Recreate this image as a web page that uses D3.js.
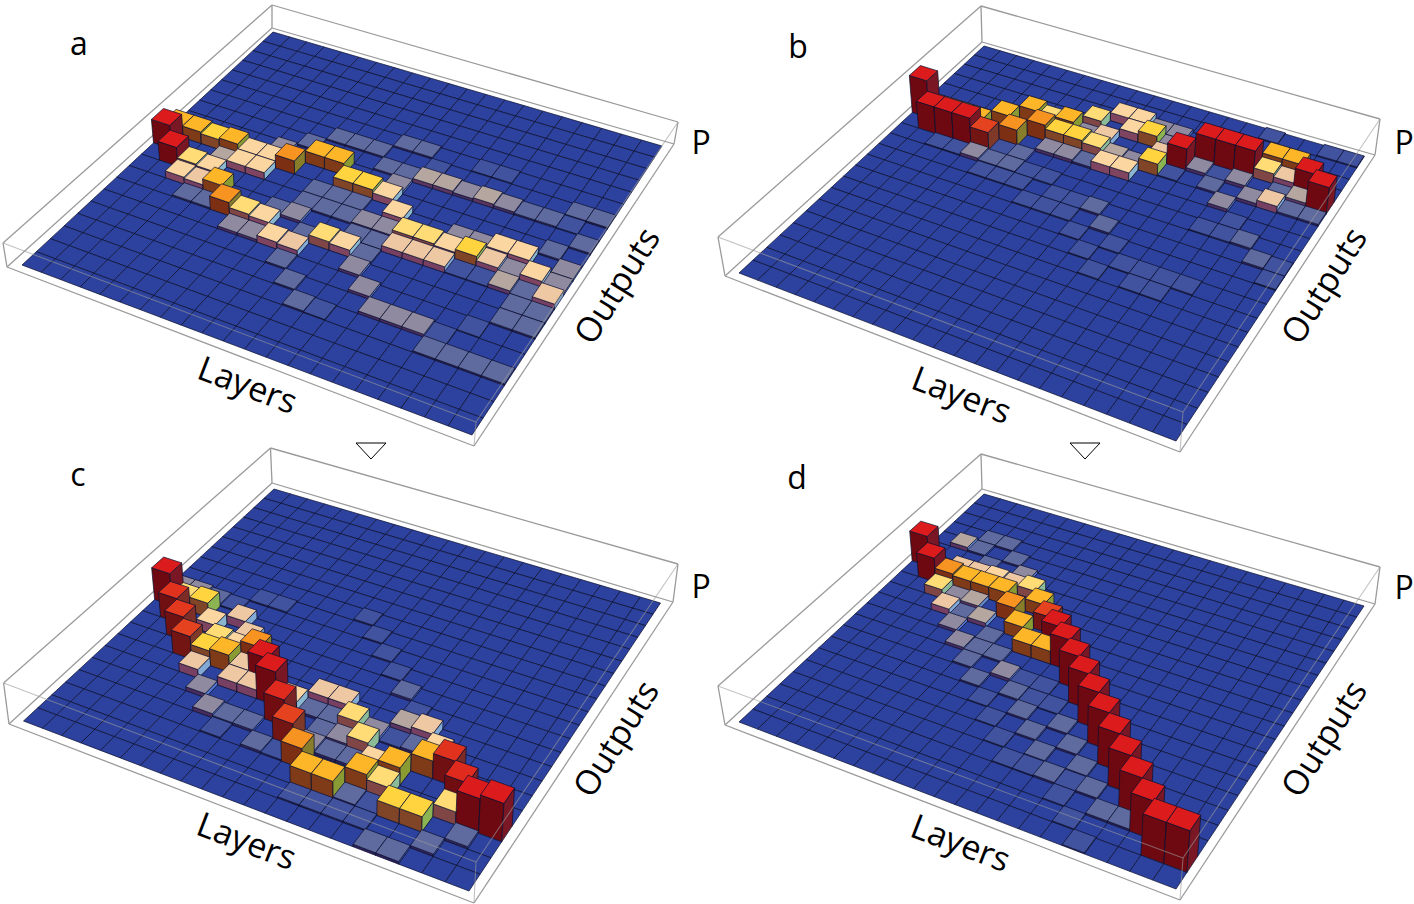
<!DOCTYPE html>
<html>
<head>
<meta charset="utf-8">
<title>Layers / Outputs</title>
<script src="https://cdn.jsdelivr.net/npm/d3@7"></script>
<style>
  html, body { margin: 0; background: #fff; }
  text { font-family: "Open Sans", "Noto Sans", sans-serif; fill: #000; }
</style>
</head>
<body>
<svg id="chart" width="1414" height="904"></svg>
<script>
// [layer, output, value]
const cellsA = [[0,10,1],[1,9,.8],[0,11,.5],[1,11,.5],[2,11,.43],[3,11,.5],[4,11,.3],[5,11,.3],[6,11,.57],[7,12,.5],[8,12,.5],[9,11,.43],[10,11,.43],[11,11,.3],[2,9,.36],[3,9,.3],[3,10,.17],[4,10,.3],[5,10,.3],[2,8,.3],[3,8,.25],[4,8,.5],[5,7,.57],[6,7,.36],[7,7,.3],[3,7,.07],[4,7,.07],[6,6,.12],[7,6,.12],[8,6,.3],[9,6,.25],[8,8,.12],[9,7,.07],[10,7,.36],[11,7,.3],[9,5,.07],[10,4,.07],[11,3,.07],[12,3,.04],[7,14,.07],[8,14,.07],[9,14,.07],[10,15,.07],[11,15,.07],[10,13,.07],[11,13,.07],[5,12,.12],[6,13,.07],[11,12,.12],[12,13,.17],[13,13,.17],[14,13,.12],[15,13,.17],[16,13,.12],[17,13,.07],[18,13,.07],[19,14,.07],[20,14,.07],[14,15,.04],[15,15,.04],[12,14,.04],[12,10,.3],[13,9,.36],[14,9,.36],[15,9,.3],[16,9,.43],[17,10,.3],[18,10,.3],[19,9,.3],[20,8,.25],[20,10,.12],[20,9,.12],[18,9,.12],[18,8,.17],[17,9,.25],[13,8,.25],[14,8,.25],[15,8,.25],[11,9,.12],[12,9,.12],[11,8,.07],[12,8,.07],[12,7,.07],[12,6,.12],[13,5,.12],[14,4,.12],[15,4,.12],[16,4,.12],[19,11,.07],[20,12,.07],[19,13,.04],[8,10,.07],[9,10,.07],[10,10,.07],[8,9,.07],[9,9,.07],[10,9,.07],[7,8,.07],[15,10,.12],[16,10,.12],[17,8,.04],[16,8,.04],[17,3,.07],[18,3,.07],[19,3,.07],[20,3,.07],[17,4,.04],[18,5,.04],[19,6,.07],[20,6,.07],[19,7,.07],[20,7,.07],[19,8,.07]];
const cellsB = [[0,14,1.36],[1,13,.98],[2,13,.98],[3,13,.98],[4,13,.66],[5,14,.57],[4,15,.5],[5,16,.5],[6,16,.36],[7,16,.5],[8,17,.36],[9,18,.3],[10,18,.3],[1,14,.5],[2,14,.5],[3,14,.5],[6,15,.57],[7,15,.43],[8,15,.43],[9,15,.36],[9,16,.25],[10,17,.3],[11,17,.43],[10,15,.17],[11,15,.12],[12,15,.43],[10,14,.3],[11,14,.3],[8,16,.12],[11,18,.12],[12,18,.12],[12,16,.25],[12,17,.12],[13,17,.3],[13,16,.8],[14,17,.98],[15,17,.98],[16,17,.98],[17,18,.5],[18,18,.5],[19,17,.8],[20,16,.98],[17,17,.36],[18,17,.25],[19,16,.17],[18,15,.25],[17,15,.12],[16,14,.12],[16,16,.12],[15,15,.07],[14,16,.12],[13,15,.04],[15,16,.04],[19,20,.04],[20,20,.04],[19,15,.07],[20,15,.07],[18,16,.07],[16,20,.04],[2,12,.04],[3,12,.04],[4,12,.12],[5,12,.07],[6,12,.07],[6,13,.07],[5,13,.04],[7,14,.12],[8,14,.12],[9,14,.07],[5,11,.04],[6,11,.04],[7,11,.04],[8,12,.04],[7,12,.04],[8,10,.04],[9,11,.04],[10,11,.04],[11,11,.07],[9,10,.04],[10,10,.04],[11,9,.04],[12,10,.07],[13,9,.04],[12,8,.04],[14,8,.04],[15,8,.04],[16,8,.04],[17,8,.04],[16,12,.04],[17,12,.04],[18,12,.07],[17,13,.04],[19,11,.07],[20,11,.04],[20,10,.04],[13,7,.04],[15,7,.04],[16,7,.04]];
const cellsC = [[0,10,.95],[1,9,.72],[2,8,.7],[3,7,.66],[2,10,.43],[1,10,.36],[0,11,.12],[1,11,.12],[2,11,.07],[3,11,.04],[4,12,.04],[3,9,.3],[4,10,.25],[5,12,.04],[4,8,.36],[5,8,.3],[5,9,.25],[6,8,.57],[4,7,.43],[5,7,.5],[7,7,.8],[8,6,.97],[4,6,.25],[9,5,.75],[10,4,.66],[11,3,.57],[5,5,.12],[6,6,.25],[6,7,.25],[7,6,.25],[6,4,.12],[7,4,.07],[8,4,.07],[7,3,.04],[9,3,.07],[10,3,.04],[10,7,.25],[11,7,.25],[12,6,.36],[13,5,.36],[13,6,.12],[14,7,.17],[15,7,.25],[16,6,.3],[14,6,.04],[15,6,.07],[16,5,.5],[17,5,.72],[18,4,.75],[19,3,.97],[20,3,1.08],[15,4,.5],[14,3,.5],[14,4,.3],[15,3,.36],[12,2,.5],[13,2,.5],[16,2,.43],[17,2,.43],[18,3,.36],[14,2,.07],[19,2,.07],[18,1,.07],[16,0,.07],[17,0,.07],[15,1,.04],[15,2,.04],[9,6,.3],[10,6,.07],[11,6,.07],[11,5,.07],[12,5,.12],[11,4,.12],[12,4,.07],[13,4,.07],[13,9,.07],[14,8,.04],[12,10,.04],[11,11,.04],[10,12,.04],[9,13,.04],[12,1,.04],[13,1,.04],[14,1,.04]];
const cellsD = [[0,14,1.23],[1,13,.98],[1,16,.17],[2,17,.07],[3,17,.07],[2,16,.07],[3,15,.07],[4,16,.07],[5,15,.12],[2,14,.25],[3,14,.25],[4,14,.3],[5,14,.25],[2,13,.57],[3,13,.5],[4,13,.5],[5,13,.5],[6,14,.36],[7,13,.5],[6,12,.57],[8,12,.66],[9,11,1],[10,10,1.2],[11,9,1.28],[12,8,1.35],[13,7,1.4],[14,6,1.4],[15,5,1.4],[16,4,1.4],[17,3,1.4],[18,2,1.4],[19,1,1.5],[20,1,1.5],[2,12,.36],[3,12,.12],[4,12,.17],[3,11,.25],[4,11,.07],[5,11,.17],[4,10,.12],[7,11,.5],[8,10,.5],[9,10,.5],[6,10,.07],[5,9,.12],[6,9,.07],[7,9,.07],[6,8,.07],[8,8,.12],[7,7,.07],[9,8,.04],[10,8,.04],[9,7,.07],[10,7,.04],[11,7,.04],[8,6,.04],[10,6,.07],[12,6,.07],[9,5,.04],[11,5,.07],[13,5,.07],[10,4,.04],[12,4,.07],[14,4,.07],[13,3,.07],[15,3,.07],[14,3,.04],[16,2,.07],[17,2,.07],[15,1,.04],[16,0,.04],[11,3,.04],[12,3,.04],[14,2,.04]];

const panelNames = ['a', 'b', 'c', 'd'];
const layerCount = 21;
const outputCount = 21;
const colourStops = [0, .04, .07, .12, .17, .25, .3, .36, .43, .5, .57, .66, .8];
const colourValues = ['#2c429e', '#41539f', '#5f6a9f', '#8f8aa0', '#b5a6a0', '#edc8a3', '#fcd6a0', '#ffdc75', '#ffd43f', '#fdb627', '#f79320', '#e5431f', '#dc1c1c'];

// corners run left, front, right, back
const panels = [
  { cells: cellsA, gain: 1, letter: [79, 42], layers: [248, 384], outputs: [616, 285], p: [701, 141],
    floor: [[22,265],[472,435],[662,146],[273,32]],
    boxBottom: [[7,267],[474,446],[674,144],[272,28]], boxTop: [[3,243],[476,422],[678,122],[272,5]] },
  { cells: cellsB, gain: 1.36, letter: [798, 45], layers: [962, 394], outputs: [1323, 285], p: [1404, 141],
    floor: [[739,273],[1176,441],[1364,157],[984,46]],
    boxBottom: [[725,276],[1180,452],[1375,155],[982,42]], boxTop: [[718,237],[1183,412],[1380,119],[981,6]] },
  { cells: cellsC, gain: 1.14, letter: [78, 473], layers: [247, 840], outputs: [615, 738], p: [701, 585],
    floor: [[23.5,721],[469,891],[660.5,603],[274,489]],
    boxBottom: [[9,724],[474,903],[673,602],[272,483]], boxTop: [[3.6,683],[476,862],[678,564],[270.5,448]] },
  { cells: cellsD, gain: 1.5, letter: [797, 476], layers: [961, 842], outputs: [1323, 738], p: [1404, 586],
    floor: [[739,722],[1176,889],[1364,606],[984,494]],
    boxBottom: [[725,725],[1180,900],[1375,604],[982,489]], boxTop: [[718,686],[1183,858],[1380,567],[981,454]] }
];
const markers = [[371, 443], [1085, 443]];

const svg = d3.select('#chart');
const layerScale = d3.scaleLinear().domain([0, layerCount]).range([0, 1]);
const outputScale = d3.scaleLinear().domain([0, outputCount]).range([0, 1]);
const colourScale = d3.scaleLinear().domain(colourStops).range(colourValues).clamp(true);
const path = d3.line();

// unit square to quad
function squareToQuad(q) {
  const [p0, p1, p2, p3] = q;
  const dx1 = p1[0] - p2[0], dx2 = p3[0] - p2[0], sx = p0[0] - p1[0] + p2[0] - p3[0];
  const dy1 = p1[1] - p2[1], dy2 = p3[1] - p2[1], sy = p0[1] - p1[1] + p2[1] - p3[1];
  const det = dx1 * dy2 - dx2 * dy1;
  const g = (sx * dy2 - dx2 * sy) / det, h = (dx1 * sy - sx * dy1) / det;
  return (u, v) => {
    const w = g * u + h * v + 1;
    return [
      ((p1[0] - p0[0] + g * p1[0]) * u + (p3[0] - p0[0] + h * p3[0]) * v + p0[0]) / w,
      ((p1[1] - p0[1] + g * p1[1]) * u + (p3[1] - p0[1] + h * p3[1]) * v + p0[1]) / w
    ];
  };
}

function sideColours(c) {
  const rgb = d3.rgb(c);
  return [
    d3.rgb(rgb.r * .5, rgb.g * .32, rgb.b * .6).formatHex(),
    d3.rgb(rgb.r * .55, rgb.g * .85, Math.min(255, rgb.b * 1.3)).formatHex()
  ];
}

function drawPanel(panel) {
  const g = svg.append('g');
  const floorAt = squareToQuad(panel.floor);
  const lifts = panel.boxTop.map((d, i) => [d[0] - panel.boxBottom[i][0], d[1] - panel.boxBottom[i][1]]);
  const project = (layer, output, z) => {
    const u = layerScale(layer), v = outputScale(output);
    const [x, y] = floorAt(u, v);
    const w = [(1 - u) * (1 - v), u * (1 - v), u * v, (1 - u) * v];
    return [x + z * d3.sum(lifts, (l, i) => l[0] * w[i]), y + z * d3.sum(lifts, (l, i) => l[1] * w[i])];
  };

  const b = panel.boxBottom, t = panel.boxTop;
  const backLines = [[t[3], t[0]], [t[3], t[2]], [b[3], b[0]], [b[3], b[2]], [b[0], t[0]], [b[2], t[2]], [b[3], t[3]], [b[0], b[1]], [b[1], b[2]]];
  const overLines = [[t[0], t[1]], [t[1], t[2]], [b[1], t[1]]];

  g.selectAll('path.back').data(backLines).join('path').attr('class', 'back')
    .attr('d', path).attr('fill', 'none').attr('stroke', '#9a9a9a').attr('stroke-width', 1.3);

  const values = new Map(panel.cells.map(d => [d[0] + ',' + d[1], d[2]]));
  const faces = [];
  // far corner first, so nearer bars paint over
  d3.range(layerCount).forEach(i => {
    d3.range(outputCount - 1, -1, -1).forEach(j => {
      const value = values.get(i + ',' + j) || 0;
      const z = value / panel.gain;
      const top = colourScale(value);
      const [leftFace, rightFace] = sideColours(top);
      if (value > 0) {
        faces.push({ d: [project(i, j, 0), project(i + 1, j, 0), project(i + 1, j, z), project(i, j, z)], fill: leftFace });
        faces.push({ d: [project(i + 1, j, 0), project(i + 1, j + 1, 0), project(i + 1, j + 1, z), project(i + 1, j, z)], fill: rightFace });
      }
      faces.push({ d: [project(i, j, z), project(i + 1, j, z), project(i + 1, j + 1, z), project(i, j + 1, z)], fill: top });
    });
  });
  g.selectAll('path.face').data(faces).join('path').attr('class', 'face')
    .attr('d', d => path(d.d) + 'Z')
    .attr('fill', d => d.fill)
    .attr('stroke', '#0b1030').attr('stroke-width', .85).attr('stroke-opacity', .85).attr('stroke-linejoin', 'round');

  g.selectAll('path.over').data(overLines).join('path').attr('class', 'over')
    .attr('d', path).attr('fill', 'none').attr('stroke', '#9a9a9a').attr('stroke-width', 1.1).attr('stroke-opacity', .6);
}

panels.forEach(drawPanel);

// triangles between the top and bottom rows
svg.selectAll('path.marker').data(markers).join('path').attr('class', 'marker')
  .attr('d', d => path([[d[0] - 15, d[1]], [d[0] + 15, d[1]], [d[0], d[1] + 16]]) + 'Z')
  .attr('fill', '#fff').attr('stroke', '#000').attr('stroke-width', 1);

panels.forEach((panel, i) => {
  const label = (pos, str, rot, size) => svg.append('text')
    .attr('transform', `translate(${pos[0]},${pos[1]}) rotate(${rot})`)
    .attr('text-anchor', 'middle').attr('dominant-baseline', 'central')
    .attr('font-size', size).text(str);
  label(panel.letter, panelNames[i], 0, 32);
  label(panel.layers, 'Layers', 21, 34);
  label(panel.outputs, 'Outputs', -58, 34);
  label(panel.p, 'P', 0, 32);
});
</script>
</body>
</html>
